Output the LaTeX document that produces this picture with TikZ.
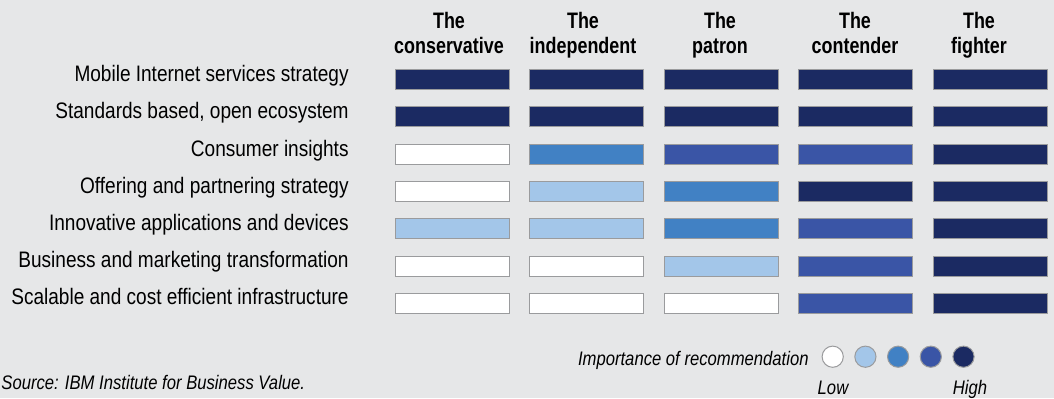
\documentclass[tikz,border=0pt]{standalone}
\usepackage{xcolor}
\usepackage{fontspec}
\setmainfont{Liberation Sans}[FakeStretch=0.85]
\newfontfamily\headfont{Liberation Sans}[FakeStretch=0.8]
\usepackage{tikz}

\definecolor{bggray}{HTML}{E6E7E8}
\definecolor{edgegray}{HTML}{9A9B9D}
\definecolor{lvlA}{HTML}{FFFFFF}
\definecolor{lvlB}{HTML}{A3C6E9}
\definecolor{lvlC}{HTML}{4181C4}
\definecolor{lvlD}{HTML}{3A55A6}
\definecolor{lvlE}{HTML}{1B2A62}

\begin{document}
\begin{tikzpicture}[x=0.5pt, y=-0.5pt,
        bar/.style={draw=edgegray, line width=0.5pt, minimum width=57pt, minimum height=10pt, inner sep=0pt},
        dot/.style={draw=edgegray, line width=0.5pt, circle, minimum size=10.6pt, inner sep=0pt},
        head/.style={align=center, anchor=base, inner sep=0pt, font=\headfont\bfseries\fontsize{11.2}{12.5}\selectfont},
        rowlabel/.style={anchor=base east, inner sep=0pt, font=\fontsize{11.2}{13}\selectfont},
        note/.style={inner sep=0pt, font=\itshape\fontsize{9.8}{12}\selectfont}]
        % Background
        \fill[bggray] (0,0) rectangle (1054,398);
        \useasboundingbox (0,0) rectangle (1054,398);

        % Column heads
        \node[head] (hcons) at (449,53) {The\\conservative};
        \node[head] (hind) at (583,53) {The\\independent};
        \node[head] (hpat) at (720,53) {The\\patron};
        \node[head] (hcont) at (855,53) {The\\contender};
        \node[head] (hfig) at (979,53) {The\\fighter};

        % Row labels
        \node[rowlabel] (r1) at (349,81.5) {Mobile Internet services strategy};
        \node[rowlabel] (r2) at (349,118.5) {Standards based, open ecosystem};
        \node[rowlabel] (r3) at (349,156) {Consumer insights};
        \node[rowlabel] (r4) at (349,193) {Offering and partnering strategy};
        \node[rowlabel] (r5) at (349,230.5) {Innovative applications and devices};
        \node[rowlabel] (r6) at (349,267.5) {Business and marketing transformation};
        \node[rowlabel] (r7) at (349,304.5) {Scalable and cost efficient infrastructure};

        % Row 1
        \node[bar, fill=lvlE] (cons1) at (452,79.3) {};
        \node[bar, fill=lvlE] (ind1) at (586.5,79.3) {};
        \node[bar, fill=lvlE] (pat1) at (721,79.3) {};
        \node[bar, fill=lvlE] (cont1) at (855.5,79.3) {};
        \node[bar, fill=lvlE] (fig1) at (990,79.3) {};

        % Row 2
        \node[bar, fill=lvlE] (cons2) at (452,116.7) {};
        \node[bar, fill=lvlE] (ind2) at (586.5,116.7) {};
        \node[bar, fill=lvlE] (pat2) at (721,116.7) {};
        \node[bar, fill=lvlE] (cont2) at (855.5,116.7) {};
        \node[bar, fill=lvlE] (fig2) at (990,116.7) {};

        % Row 3
        \node[bar, fill=lvlA] (cons3) at (452,154) {};
        \node[bar, fill=lvlC] (ind3) at (586.5,154) {};
        \node[bar, fill=lvlD] (pat3) at (721,154) {};
        \node[bar, fill=lvlD] (cont3) at (855.5,154) {};
        \node[bar, fill=lvlE] (fig3) at (990,154) {};

        % Row 4
        \node[bar, fill=lvlA] (cons4) at (452,191.3) {};
        \node[bar, fill=lvlB] (ind4) at (586.5,191.3) {};
        \node[bar, fill=lvlC] (pat4) at (721,191.3) {};
        \node[bar, fill=lvlE] (cont4) at (855.5,191.3) {};
        \node[bar, fill=lvlE] (fig4) at (990,191.3) {};

        % Row 5
        \node[bar, fill=lvlB] (cons5) at (452,228.7) {};
        \node[bar, fill=lvlB] (ind5) at (586.5,228.7) {};
        \node[bar, fill=lvlC] (pat5) at (721,228.7) {};
        \node[bar, fill=lvlD] (cont5) at (855.5,228.7) {};
        \node[bar, fill=lvlE] (fig5) at (990,228.7) {};

        % Row 6
        \node[bar, fill=lvlA] (cons6) at (452,266) {};
        \node[bar, fill=lvlA] (ind6) at (586.5,266) {};
        \node[bar, fill=lvlB] (pat6) at (721,266) {};
        \node[bar, fill=lvlD] (cont6) at (855.5,266) {};
        \node[bar, fill=lvlE] (fig6) at (990,266) {};

        % Row 7
        \node[bar, fill=lvlA] (cons7) at (452,303.3) {};
        \node[bar, fill=lvlA] (ind7) at (586.5,303.3) {};
        \node[bar, fill=lvlA] (pat7) at (721,303.3) {};
        \node[bar, fill=lvlD] (cont7) at (855.5,303.3) {};
        \node[bar, fill=lvlE] (fig7) at (990,303.3) {};

        % Legend
        \node[note, anchor=base east] (imp) at (809,365) {Importance of recommendation};
        \node[dot, fill=lvlA] (d1) at (832.7,356.7) {};
        \node[dot, fill=lvlB] (d2) at (865.4,356.7) {};
        \node[dot, fill=lvlC] (d3) at (898.1,356.7) {};
        \node[dot, fill=lvlD] (d4) at (930.8,356.7) {};
        \node[dot, fill=lvlE] (d5) at (963.5,356.7) {};
        \node[note, anchor=base] (low) at (833,394) {Low};
        \node[note, anchor=base] (high) at (970,394) {High};

        % Source
        \node[note, anchor=base west] (src) at (1,389) {Source: IBM Institute for Business Value.};
      \end{tikzpicture}
\end{document}
